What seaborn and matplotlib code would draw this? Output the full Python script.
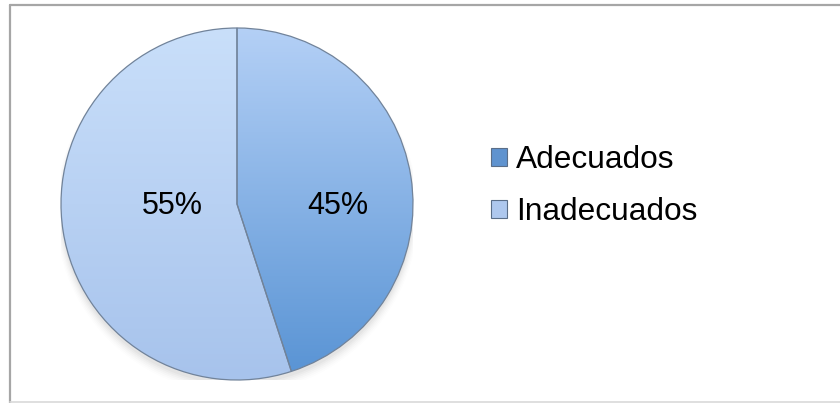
import numpy as np
import matplotlib
matplotlib.use("Agg")
import matplotlib.pyplot as plt
import seaborn as sns
from matplotlib.colors import LinearSegmentedColormap
from matplotlib.patches import Patch, Circle
from matplotlib.lines import Line2D

categories = ["Adecuados", "Inadecuados"]
values = [45, 55]

# top/bottom shades for the gradient fill of each slice
top_colors = ["#b4d0f6", "#c9dffa"]
bottom_colors = ["#5893d4", "#a7c3ec"]
legend_colors = ["#5f93cf", "#aec8ee"]

sns.set_theme(style="white")
plt.rcParams["font.family"] = ["Liberation Sans", "DejaVu Sans"]

W, H = 840, 403
fig = plt.figure(figsize=(W / 100, H / 100), dpi=100)
fig.patch.set_facecolor("white")

# chart frame (open on the right)
fig.add_artist(Line2D([10 / W, 1], [1 - 5 / H, 1 - 5 / H], color="#a6a6a6", lw=1.6))
fig.add_artist(Line2D([10 / W, 10 / W], [1 - 5 / H, 0], color="#a6a6a6", lw=1.6))
fig.add_artist(Line2D([10 / W, 1], [1.5 / H, 1.5 / H], color="#d9d9d9", lw=1.2))

cx, cy, r = 237, 204, 176
ax = fig.add_axes([(cx - r) / W, (H - cy - r) / H, 2 * r / W, 2 * r / H])

# soft shadow under the pie
for k, a in enumerate(np.linspace(0.05, 0.012, 6)):
    ax.add_patch(Circle((0.0, -0.025 - k * 0.004), 1.0 + k * 0.006,
                        color="#7f7f7f", alpha=a, lw=0, zorder=0))

wedges, texts, autotexts = ax.pie(
    values, startangle=90, counterclock=False, autopct="%.0f%%",
    pctdistance=0.6, radius=1.0,
    wedgeprops=dict(edgecolor="#71839a", linewidth=0.9),
    textprops=dict(fontsize=22, color="black"),
)

grad = np.linspace(0, 1, 256).reshape(-1, 1)
for w, ct, cb in zip(wedges, top_colors, bottom_colors):
    cmap = LinearSegmentedColormap.from_list("g", [ct, cb])
    im = ax.imshow(grad, cmap=cmap, extent=(-1, 1, -1, 1), origin="upper",
                   aspect="auto", zorder=1, interpolation="bilinear")
    im.set_clip_path(w)
    w.set_facecolor("none")
    w.set_zorder(2)

for t in autotexts:
    t.set_zorder(3)
# place percentage labels on the horizontal through the centre
autotexts[0].set_position((0.57, -0.01))
autotexts[1].set_position((-0.37, -0.01))

ax.set_xlim(-1.0, 1.0)
ax.set_ylim(-1.0, 1.0)
ax.set_aspect("equal")
ax.axis("off")

handles = [Patch(facecolor=c, edgecolor="#5a6e88", linewidth=0.8) for c in legend_colors]
leg = fig.legend(handles, categories, loc="center left",
                 bbox_to_anchor=(491 / W, 1 - 186 / H), frameon=False,
                 fontsize=22.8, handlelength=0.5, handleheight=0.5,
                 handletextpad=0.3, labelspacing=0.7, borderpad=0, borderaxespad=0)
for t in leg.get_texts():
    t.set_color("black")

fig.savefig("out.png", dpi=100, facecolor="white")
